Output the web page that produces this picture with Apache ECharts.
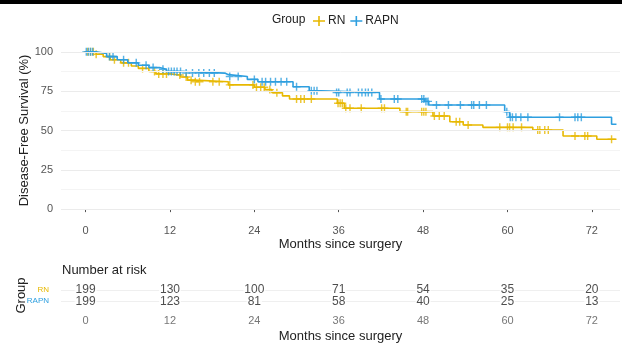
<!DOCTYPE html>
<html><head><meta charset="utf-8">
<script src="https://cdn.jsdelivr.net/npm/echarts@6/dist/echarts.min.js"></script>
<style>html,body{margin:0;padding:0;background:#fff}#c{width:622px;height:344px}</style>
</head><body><div id="c"></div>
<script>
// ---- data ----
const groups = ['RN', 'RAPN'];
const monthTicks = [0, 12, 24, 36, 48, 60, 72];
const survTicks = [0, 25, 50, 75, 100];
const rnTimes = [0, 1.5, 2.5, 3.5, 5, 6.5, 7.5, 9, 10, 12, 13.5, 14.5, 15.5, 20.3, 24, 25.5, 26.5, 28, 29, 35.8, 36.8, 44.7, 49.4, 51.8, 53.7, 56.5, 63.6, 67.9, 72.7, 75.5];
const rnSurv  = [100, 98.5, 97, 95, 93, 91, 89.5, 87.5, 86, 85.3, 84, 82, 81, 79, 77.5, 76, 74, 72, 70, 67.3, 64.1, 62, 59.2, 55.6, 53.5, 52, 50.3, 46.5, 44.4, 44.4];
const rapnTimes = [0, 1.5, 3, 4.5, 6, 7.5, 9, 10.5, 11.5, 14, 19.8, 20.3, 23, 24.5, 29.5, 31.8, 33.5, 41.8, 48.2, 48.8, 59.6, 60.3, 74.8, 75.5];
const rapnSurv  = [100, 99, 97, 95, 93, 91.5, 90, 89, 87.5, 86.5, 85.5, 84.3, 82.5, 81, 77.8, 75.2, 74.2, 70, 68.5, 66.2, 62, 58.4, 54, 54];
const rnCensor = [0.3, 0.7, 1.1, 1.5, 3.4, 4.1, 5.4, 6.1, 8.1, 9.8, 10.4, 11, 11.5, 13.4, 14.3, 15, 15.6, 16.2, 18.1, 19, 20.5, 23.8, 24.3, 24.9, 25.4, 26.2, 27.2, 30, 30.6, 31.1, 32.1, 35.9, 36.2, 36.5, 37, 37.6, 39.2, 42.1, 42.5, 45.6, 45.8, 47.8, 48.1, 48.4, 49.6, 50.3, 51, 52.7, 53.2, 54.4, 58.9, 60, 60.3, 60.8, 62, 64.3, 64.6, 65.3, 65.8, 69.6, 71, 71.4, 74.8];
const rapnCensor = [0.1, 0.4, 0.7, 1, 3.4, 3.9, 5.4, 7.2, 8.6, 9.6, 11, 11.8, 12.2, 12.6, 13, 13.5, 14.3, 15.2, 16.1, 16.8, 17.6, 18.3, 20.5, 21.7, 24, 25.1, 25.6, 26.3, 27, 27.8, 28.6, 30, 32.1, 32.5, 32.9, 35.7, 36, 37.2, 37.6, 38.8, 39.3, 39.8, 40.2, 40.7, 42, 43.9, 44.4, 47.8, 48.1, 48.4, 48.7, 49.9, 51.6, 53.3, 54.9, 55.2, 56, 57, 59.9, 60.4, 60.7, 61.2, 61.9, 62.9, 67.4, 69.6, 70, 70.5];
const riskRN   = [199, 130, 100, 71, 54, 35, 20];
const riskRAPN = [199, 123, 81, 58, 40, 25, 13];

// ---- helpers ----
const colors = { RN: '#E7B800', RAPN: '#2E9FDF' };
function pairs(ts, vs) { return ts.map((t, i) => [t, vs[i]]); }
function stepAt(ts, vs, t) { let v = vs[0]; for (let i = 0; i < ts.length; i++) { if (ts[i] <= t) v = vs[i]; } return v; }
const plus = 'path://M4.1,0h1.8v10h-1.8z M0,4.1h10v1.8h-10z';
const legIcon = 'path://M0,4.3h12v1.4h-12z M5.2,0h1.6v10h-1.6z';
const txt = 'Liberation Sans, Arial, sans-serif';
const xMin = -3.5, xMax = 76;

const chart = echarts.init(document.getElementById('c'), null, { renderer: 'canvas' });
chart.setOption({
  animation: false,
  textStyle: { fontFamily: txt },
  graphic: [
    { type: 'rect', shape: { x: 0, y: 0, width: 622, height: 4 }, style: { fill: '#000' } },
    { type: 'text', left: 272, top: 14, style: { text: 'Group', font: '12px ' + txt, fill: '#222' } },
    { type: 'text', left: 62, top: 264, style: { text: 'Number at risk', font: '13px ' + txt, fill: '#222' } }
  ],
  legend: {
    left: 308, top: 10, itemWidth: 12, itemHeight: 10, itemGap: 5,
    textStyle: { fontSize: 12, color: '#222', fontFamily: txt, padding: [0, 0, 0, -2] },
    data: [{ name: 'RN', icon: legIcon }, { name: 'RAPN', icon: legIcon }]
  },
  grid: [
    { left: 61, width: 559, top: 44, height: 173 },
    { left: 61, width: 559, top: 284, height: 25 }
  ],
  xAxis: [
    { type: 'value', gridIndex: 0, min: xMin, max: xMax, interval: 12,
      axisLine: { show: false },
      axisLabel: { color: '#555', fontSize: 11, margin: 8, customValues: monthTicks },
      axisTick: { show: true, length: 3, lineStyle: { color: '#555' }, customValues: monthTicks },
      splitLine: { show: false },
      name: 'Months since surgery', nameLocation: 'middle', nameGap: 21, nameMoveOverlap: false,
      nameTextStyle: { fontSize: 13, color: '#222' } },
    { type: 'value', gridIndex: 1, min: xMin, max: xMax, interval: 12,
      axisLine: { show: false }, axisTick: { show: false, customValues: monthTicks },
      axisLabel: { color: '#777', fontSize: 11, margin: 8, customValues: monthTicks },
      splitLine: { show: false },
      name: 'Months since surgery', nameLocation: 'middle', nameGap: 23, nameMoveOverlap: false,
      nameTextStyle: { fontSize: 13, color: '#222' } }
  ],
  yAxis: [
    { type: 'value', gridIndex: 0, min: -5, max: 105,
      axisLine: { show: false },
      axisTick: { show: true, length: 4, lineStyle: { color: '#555' }, customValues: survTicks },
      axisLabel: { color: '#555', fontSize: 11, margin: 8, customValues: survTicks },
      splitLine: { show: false },
      name: 'Disease-Free Survival (%)', nameLocation: 'middle', nameGap: 30, nameMoveOverlap: false,
      nameTextStyle: { fontSize: 13, color: '#222' } },
    { type: 'category', gridIndex: 1, data: ['RAPN', 'RN'],
      axisLine: { show: false }, axisTick: { show: false },
      axisLabel: { fontSize: 8, margin: 12,
        formatter: v => '{' + v + '|' + v + '}',
        rich: { RN: { color: colors.RN, fontSize: 8 }, RAPN: { color: colors.RAPN, fontSize: 8 } } },
      splitLine: { show: false },
      name: 'Group', nameLocation: 'middle', nameGap: 33, nameMoveOverlap: false,
      nameTextStyle: { fontSize: 13, color: '#222' } }
  ],
  series: [
    // horizontal grid lines of the survival panel
    { type: 'line', xAxisIndex: 0, yAxisIndex: 0, data: [], silent: true,
      markLine: { silent: true, symbol: 'none', label: { show: false },
        data: survTicks.map(v => ({ yAxis: v, lineStyle: { color: '#ebebeb', width: 1, type: 'solid' } }))
          .concat([12.5, 37.5, 62.5, 87.5].map(v => ({ yAxis: v, lineStyle: { color: '#f4f4f4', width: 1, type: 'solid' } }))) } },
    { name: 'RN', type: 'line', step: 'end', xAxisIndex: 0, yAxisIndex: 0, data: pairs(rnTimes, rnSurv),
      showSymbol: false, symbol: legIcon, lineStyle: { color: colors.RN, width: 1.6 }, itemStyle: { color: colors.RN }, z: 3 },
    { name: 'RAPN', type: 'line', step: 'end', xAxisIndex: 0, yAxisIndex: 0, data: pairs(rapnTimes, rapnSurv),
      showSymbol: false, symbol: legIcon, lineStyle: { color: colors.RAPN, width: 1.6 }, itemStyle: { color: colors.RAPN }, z: 4 },
    { name: 'RN', type: 'scatter', xAxisIndex: 0, yAxisIndex: 0, symbol: plus, symbolSize: 8,
      data: rnCensor.map(t => [t, stepAt(rnTimes, rnSurv, t)]), itemStyle: { color: colors.RN }, z: 3 },
    { name: 'RAPN', type: 'scatter', xAxisIndex: 0, yAxisIndex: 0, symbol: plus, symbolSize: 8,
      data: rapnCensor.map(t => [t, stepAt(rapnTimes, rapnSurv, t)]), itemStyle: { color: colors.RAPN }, z: 4 },
    // risk table
    { type: 'line', xAxisIndex: 1, yAxisIndex: 1, data: [], silent: true,
      markLine: { silent: true, symbol: 'none', label: { show: false },
        data: [{ yAxis: 'RN' }, { yAxis: 'RAPN' }], lineStyle: { color: '#efefef', width: 1, type: 'solid' } } },
    { type: 'scatter', xAxisIndex: 1, yAxisIndex: 1, symbolSize: 0, z: 5,
      data: monthTicks.map((m, i) => [m, 'RN', riskRN[i]]),
      label: { show: true, position: 'inside', formatter: p => p.value[2], fontSize: 12, color: '#222',
        backgroundColor: '#fff', padding: [0, 1] } },
    { type: 'scatter', xAxisIndex: 1, yAxisIndex: 1, symbolSize: 0, z: 5,
      data: monthTicks.map((m, i) => [m, 'RAPN', riskRAPN[i]]),
      label: { show: true, position: 'inside', formatter: p => p.value[2], fontSize: 12, color: '#222',
        backgroundColor: '#fff', padding: [0, 1] } }
  ]
});
</script></body></html>
